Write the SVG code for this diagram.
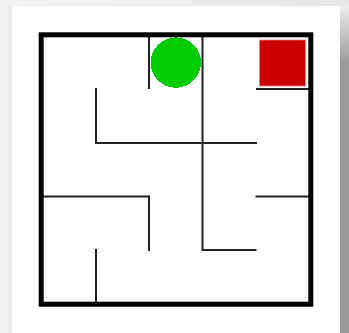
<svg xmlns="http://www.w3.org/2000/svg" width="349" height="333" viewBox="0 0 349 333">
  <defs>
    <linearGradient id="shadowR" x1="0" y1="0" x2="0" y2="1">
      <stop offset="0" stop-color="#ececec"/>
      <stop offset="0.17" stop-color="#9c9c9c"/>
      <stop offset="1" stop-color="#999999"/>
    </linearGradient>
    <linearGradient id="topG" x1="0" y1="0" x2="1" y2="0">
      <stop offset="0" stop-color="#f3f3f3"/>
      <stop offset="1" stop-color="#e6e6e6"/>
    </linearGradient>
  </defs>
  <style>
    .wall { fill: none; stroke: #222222; stroke-width: 2; stroke-linecap: butt; }
    .border { fill: none; stroke: #000000; stroke-width: 5; }
  </style>
  <rect x="0" y="0" width="349" height="333" fill="#f1f1f1"/>
  <rect x="0" y="0" width="349" height="6" fill="url(#topG)"/>
  <rect x="8" y="6" width="4" height="327" fill="#e8e8e8"/>
  <rect x="340" y="6" width="9" height="327" fill="url(#shadowR)"/>
  <rect x="12" y="6" width="328" height="327" fill="#ffffff"/>

  <g id="goal">
    <rect x="259.5" y="40" width="46" height="46" fill="#cc0000" stroke="#e88080" stroke-width="0.8"/>
  </g>
  <g id="player">
    <circle cx="175.8" cy="62.6" r="25.2" fill="#00cc00" shape-rendering="crispEdges"/>
  </g>

  <g id="walls">
    <path class="wall" d="M149 35 V89"/>
    <path class="wall" d="M202.5 35 V250 H256.5"/>
    <path class="wall" d="M256 89 H310"/>
    <path class="wall" d="M96 88 V143 H257"/>
    <path class="wall" d="M42 196.5 H149 V251"/>
    <path class="wall" d="M255.5 196.5 H310"/>
    <path class="wall" d="M96 249 V304"/>
  </g>
  <g id="outline">
    <rect class="border" x="41.2" y="34.8" width="269.6" height="269.4"/>
  </g>
</svg>
